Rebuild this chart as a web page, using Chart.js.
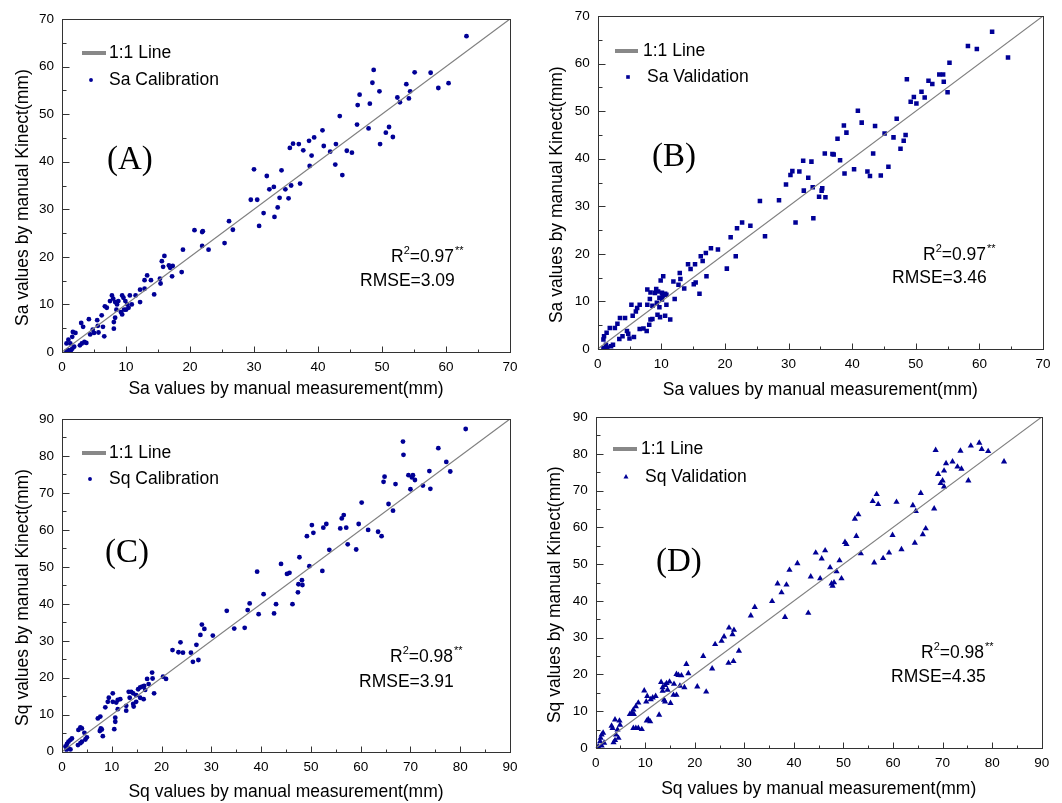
<!DOCTYPE html>
<html>
<head>
<meta charset="utf-8">
<script src="https://cdn.jsdelivr.net/npm/chart.js@4.4.0/dist/chart.umd.min.js"></script>
<style>
  body { margin: 0; background: #fff; width: 1062px; height: 803px; position: relative; overflow: hidden; }
  canvas { position: absolute; }
</style>
</head>
<body>
<canvas id="chartA" width="531" height="401" style="left:0;top:0"></canvas>
<canvas id="chartB" width="531" height="401" style="left:531px;top:0"></canvas>
<canvas id="chartC" width="531" height="402" style="left:0;top:401px"></canvas>
<canvas id="chartD" width="531" height="402" style="left:531px;top:401px"></canvas>
<script>
const saCalibration = [[63.2,66.4],[48.7,59.3],[46.5,54.1],[46.2,51.9],[49.6,54.8],[48.5,56.6],[48.1,52.2],[55.1,58.8],[57.6,58.7],[53.8,56.3],[54.4,54.8],[52.4,53.5],[52.8,52.5],[54.2,53.3],[58.8,55.5],[60.4,56.5],[46.1,47.8],[47.9,47.0],[51.1,47.3],[50.6,46.1],[51.7,45.2],[49.7,43.7],[43.4,49.6],[40.7,46.6],[39.4,45.1],[38.6,44.4],[40.9,43.3],[42.8,43.7],[44.5,42.3],[45.3,41.9],[41.9,42.1],[37.7,42.4],[39.0,41.3],[38.7,39.1],[42.7,39.4],[43.8,37.2],[37.0,43.7],[36.1,43.8],[35.6,42.9],[37.2,35.4],[35.8,35.0],[34.9,34.2],[35.4,32.3],[34.3,38.2],[34.0,32.4],[33.7,30.4],[33.1,34.7],[32.4,34.2],[32.0,37.0],[30.0,38.4],[29.5,32.0],[30.5,32.0],[31.5,29.2],[33.2,28.4],[30.8,26.5],[26.1,27.5],[26.7,25.7],[25.4,22.9],[20.7,25.6],[21.9,25.2],[22.0,25.4],[21.9,22.3],[22.9,21.5],[18.9,21.5],[18.7,16.8],[16.0,20.2],[15.6,19.1],[15.8,17.9],[16.7,18.2],[17.3,18.1],[16.9,17.7],[17.2,15.9],[15.3,15.4],[15.4,14.4],[13.3,16.1],[12.9,15.1],[13.9,15.1],[14.4,12.1],[12.2,13.1],[12.9,13.3],[11.5,11.9],[12.2,10.5],[10.6,11.9],[10.9,10.0],[9.6,11.4],[9.4,11.9],[9.9,10.7],[10.2,10.0],[10.0,8.9],[10.4,9.3],[9.2,8.4],[9.4,7.9],[9.7,8.9],[7.8,11.9],[8.0,11.2],[8.3,10.5],[8.6,10.0],[8.8,10.7],[7.5,10.7],[6.7,9.6],[7.0,9.3],[8.5,8.9],[8.3,7.2],[8.1,6.3],[8.1,4.9],[6.2,7.7],[5.5,6.7],[5.6,5.5],[4.8,4.7],[5.0,4.0],[5.7,4.1],[6.4,5.3],[6.6,3.3],[4.2,6.9],[3.0,6.1],[3.3,5.3],[4.4,3.7],[3.5,2.1],[3.1,1.8],[2.8,1.4],[3.8,1.9],[2.1,4.0],[1.7,4.2],[1.6,3.2],[1.0,2.6],[0.7,1.8],[1.3,1.8],[1.9,1.1],[1.6,0.7],[1.0,0.4],[0.7,0.2],[1.4,0.4]];

const saValidation = [[62.0,66.7],[58.2,63.7],[59.6,63.1],[64.5,61.3],[55.3,60.2],[48.6,56.7],[52.0,56.4],[52.6,55.7],[53.7,57.7],[54.3,57.7],[54.4,56.2],[50.9,54.1],[51.4,52.9],[49.7,53.0],[49.2,52.0],[50.1,51.6],[55.0,54.0],[40.9,50.1],[41.5,47.6],[38.7,47.0],[43.6,46.9],[47.0,48.4],[39.1,45.5],[37.7,44.2],[45.1,45.3],[46.5,44.5],[48.4,45.0],[48.1,43.8],[47.6,42.1],[43.3,41.1],[35.7,41.1],[36.9,41.0],[37.1,40.9],[38.1,39.7],[38.8,36.9],[40.3,37.8],[42.4,37.3],[42.8,36.4],[44.5,36.5],[45.7,38.3],[32.3,39.6],[33.6,39.4],[31.7,37.3],[30.6,37.4],[30.3,36.6],[29.6,34.6],[33.1,36.0],[33.8,34.0],[35.3,33.8],[32.4,33.3],[35.2,33.3],[34.8,32.0],[35.8,31.9],[33.9,27.5],[31.1,26.6],[28.5,31.3],[25.5,31.1],[22.7,26.6],[24.0,25.9],[21.9,25.4],[26.3,23.7],[20.9,23.5],[21.7,19.5],[20.3,16.9],[17.8,21.2],[18.9,20.9],[17.0,20.2],[16.2,19.5],[16.5,18.5],[15.3,17.8],[14.2,17.8],[14.6,16.8],[17.1,15.3],[15.4,14.0],[15.1,13.6],[16.0,11.6],[12.9,16.0],[13.0,14.7],[11.9,14.2],[12.7,13.5],[13.6,12.7],[12.1,10.5],[10.3,15.3],[9.9,14.4],[9.2,12.6],[8.3,11.9],[9.0,11.8],[9.5,12.1],[10.1,11.8],[10.6,11.6],[10.8,11.4],[9.7,10.8],[10.2,11.2],[10.1,10.4],[9.3,9.7],[7.8,12.5],[8.2,10.5],[7.8,9.3],[8.6,9.1],[9.7,8.8],[10.8,9.3],[11.4,6.2],[10.6,7.0],[9.4,7.2],[9.8,6.7],[6.6,9.3],[6.2,8.6],[6.0,7.9],[5.3,9.3],[5.5,7.0],[4.3,6.5],[3.5,6.5],[3.1,5.3],[2.7,4.4],[1.9,4.4],[1.4,3.4],[1.0,2.7],[0.9,2.0],[4.6,3.8],[4.8,3.2],[5.0,2.2],[5.7,2.5],[3.9,2.7],[3.4,2.1],[7.7,3.8],[6.6,4.2],[7.2,4.3],[8.1,5.1],[8.3,6.2],[8.6,6.3],[2.1,0.6],[1.5,0.3],[0.9,0.2],[2.4,0.9],[1.3,0.9]];

const sqCalibration = [[81.1,87.3],[68.5,83.9],[68.6,80.3],[75.6,82.1],[77.2,78.4],[78.0,75.8],[73.8,75.9],[74.0,71.1],[72.5,72.0],[70.0,71.0],[69.6,74.8],[70.5,74.8],[70.9,73.5],[70.3,74.2],[64.8,74.4],[64.6,73.0],[67.0,72.4],[65.6,67.0],[66.5,65.2],[60.2,67.4],[59.6,61.6],[61.5,60.0],[63.5,59.5],[64.2,58.3],[56.6,64.0],[56.2,63.1],[55.9,60.4],[57.1,60.6],[57.4,56.1],[59.1,54.7],[53.1,61.6],[52.5,60.6],[53.7,54.6],[50.2,61.3],[50.5,59.2],[49.2,58.3],[49.7,50.2],[52.3,48.9],[47.7,52.6],[44.0,50.8],[45.2,48.1],[45.7,48.4],[48.2,46.4],[48.3,45.1],[47.5,45.3],[47.4,43.1],[46.3,39.9],[43.0,39.9],[42.6,37.4],[40.5,42.6],[39.2,48.7],[37.7,40.1],[37.3,38.3],[39.5,37.2],[36.7,33.5],[33.1,38.1],[34.6,33.3],[30.3,31.4],[28.1,34.4],[28.6,33.2],[27.8,31.6],[27.0,28.9],[23.8,29.6],[22.2,27.5],[23.4,26.9],[24.3,26.8],[25.9,26.8],[26.3,24.3],[27.4,24.8],[20.3,20.3],[20.9,19.7],[18.1,21.4],[18.2,19.8],[17.1,19.7],[17.4,18.3],[18.5,15.8],[16.5,17.8],[16.1,17.6],[15.7,17.4],[15.3,16.9],[16.7,16.7],[16.4,14.2],[15.7,14.6],[14.9,15.3],[14.3,15.8],[13.4,16.2],[13.9,16.2],[14.9,13.5],[14.3,12.9],[14.4,12.2],[13.6,14.6],[12.9,12.4],[12.9,11.1],[11.7,14.2],[11.2,14.0],[10.9,13.3],[11.2,11.5],[10.2,15.8],[10.2,13.5],[10.7,9.2],[10.7,8.1],[10.5,6.1],[9.4,14.6],[9.2,13.5],[8.7,12.0],[7.7,9.5],[7.2,9.0],[7.8,6.3],[7.6,5.6],[8.2,4.2],[8.0,6.0],[4.0,6.3],[3.7,6.6],[3.3,5.9],[4.5,5.1],[5.0,3.9],[4.7,3.3],[4.0,2.7],[3.7,2.3],[3.2,1.8],[1.7,3.2],[1.3,2.7],[1.0,2.1],[2.0,3.6],[0.7,1.4],[1.3,0.9],[0.9,0.5],[1.7,0.6]];

const sqValidation = [[77.4,83.0],[75.7,82.2],[73.6,80.8],[77.9,81.3],[79.2,80.7],[68.6,81.0],[82.4,77.9],[72.0,77.9],[70.7,77.4],[73.0,76.5],[73.8,75.9],[70.3,75.4],[69.1,74.5],[70.0,72.7],[69.6,72.0],[70.3,71.1],[75.2,72.7],[65.6,69.3],[68.3,65.1],[56.7,69.0],[55.9,67.1],[57.0,66.3],[60.7,66.9],[64.0,66.0],[64.6,64.4],[53.0,63.5],[52.3,62.3],[52.6,57.6],[53.5,52.9],[50.3,56.0],[50.6,55.4],[59.9,57.9],[66.6,59.7],[66.0,58.1],[64.4,55.8],[61.7,54.0],[59.2,53.1],[58.0,51.6],[56.2,50.4],[49.2,51.0],[49.6,46.1],[48.6,48.0],[47.3,49.1],[45.6,51.5],[46.3,53.7],[44.4,53.1],[45.3,46.1],[47.6,44.7],[48.1,45.0],[47.8,44.1],[43.4,46.6],[42.9,36.7],[40.7,50.2],[39.1,48.4],[38.5,44.4],[36.7,44.7],[37.5,42.3],[38.2,35.6],[35.6,39.9],[32.1,38.3],[31.3,36.0],[26.9,32.7],[27.9,32.1],[27.6,30.9],[25.9,30.3],[25.4,29.1],[24.1,28.2],[28.9,26.4],[26.8,23.1],[27.8,23.6],[23.5,21.6],[21.7,25.0],[22.3,15.3],[20.5,16.7],[18.3,22.8],[18.7,20.3],[17.9,16.5],[17.3,19.7],[16.7,19.8],[16.3,20.1],[17.0,16.9],[15.8,17.4],[16.3,14.4],[15.7,14.4],[15.1,12.2],[14.9,18.0],[14.3,17.6],[14.0,17.1],[13.5,16.5],[14.5,15.8],[13.2,17.9],[13.5,15.5],[13.8,13.1],[14.0,12.6],[12.8,9.0],[12.1,14.1],[11.5,13.7],[11.1,13.2],[10.4,14.1],[10.2,12.6],[9.8,15.6],[10.6,7.8],[11.0,7.2],[10.3,7.4],[9.3,5.1],[8.6,5.4],[8.1,5.4],[7.6,5.4],[8.6,12.3],[8.1,11.3],[7.6,10.4],[7.3,9.5],[7.7,9.2],[6.9,9.2],[4.8,7.4],[3.9,7.7],[4.9,6.3],[3.2,6.0],[3.4,5.4],[4.4,5.0],[4.1,3.6],[4.6,2.7],[3.9,2.1],[3.6,1.5],[1.5,4.1],[1.2,3.6],[1.0,2.7],[0.9,1.8],[1.7,1.4],[1.2,0.6],[0.5,0.4]];

const saTicks = [0, 10, 20, 30, 40, 50, 60, 70];
const sqTicks = [0, 10, 20, 30, 40, 50, 60, 70, 80, 90];
const panelTags = ['(A)', '(B)', '(C)', '(D)'];
const r2Values = ['0.97', '0.97', '0.98', '0.98'];
const rmseValues = ['3.09', '3.46', '3.91', '4.35'];

const SANS = "'Liberation Sans', Arial, sans-serif";
const SERIF = "'Liberation Serif', 'Times New Roman', serif";
const DOT = 'rgb(0,0,150)';

// draws frame, inner ticks, legend and the text labels
const panelDecor = {
  id: 'panelDecor',
  afterDraw(chart, args, o) {
    const ctx = chart.ctx;
    const a = chart.chartArea;
    const xs = chart.scales.x, ys = chart.scales.y;
    ctx.save();
    ctx.strokeStyle = '#333';
    ctx.lineWidth = 1;
    const L = Math.round(a.left) + 0.5, R = Math.round(a.right) + 0.5;
    const T = Math.round(a.top) + 0.5, B = Math.round(a.bottom) + 0.5;
    ctx.strokeRect(L, T, R - L, B - T);
    ctx.beginPath();
    for (let v = xs.min; v <= xs.max; v += 5) {
      const px = Math.round(xs.getPixelForValue(v)) + 0.5;
      const len = v % 10 === 0 ? 6 : 3;
      ctx.moveTo(px, B); ctx.lineTo(px, B - len);
    }
    for (let v = ys.min; v <= ys.max; v += 5) {
      const py = Math.round(ys.getPixelForValue(v)) + 0.5;
      const len = v % 10 === 0 ? 7 : 4;
      ctx.moveTo(L, py); ctx.lineTo(L + len, py);
    }
    ctx.stroke();

    // legend
    const lineSet = chart.data.datasets[0], dotSet = chart.data.datasets[1];
    ctx.strokeStyle = '#888';
    ctx.lineWidth = 4;
    ctx.beginPath();
    ctx.moveTo(o.leg.lx0, o.leg.ly); ctx.lineTo(o.leg.lx1, o.leg.ly);
    ctx.stroke();
    ctx.fillStyle = '#000';
    ctx.font = '17.5px ' + SANS;
    ctx.textBaseline = 'middle';
    ctx.textAlign = 'left';
    ctx.fillText(lineSet.label, o.leg.tx0, o.leg.ly);
    ctx.fillText(dotSet.label, o.leg.tx1, o.leg.my);
    ctx.fillStyle = DOT;
    Chart.helpers.drawPoint(ctx, {pointStyle: dotSet.pointStyle, radius: dotSet.pointRadius * 0.8, borderWidth: 0, rotation: 0}, o.leg.mx, o.leg.my);

    // panel tag
    ctx.fillStyle = '#000';
    ctx.font = '33px ' + SERIF;
    ctx.fillText(o.tag, o.tagX, o.tagY);

    // R2 with superscripts
    ctx.font = '17.5px ' + SANS;
    let x = o.r2X;
    ctx.fillText('R', x, o.r2Y); x += ctx.measureText('R').width;
    ctx.font = '11px ' + SANS;
    ctx.fillText('2', x, o.r2Y - 6); x += ctx.measureText('2').width;
    ctx.font = '17.5px ' + SANS;
    const main = '=' + o.r2;
    ctx.fillText(main, x, o.r2Y); x += ctx.measureText(main).width;
    ctx.font = '11px ' + SANS;
    ctx.fillText('**', x + 1, o.r2Y - 6);
    ctx.font = '17.5px ' + SANS;
    ctx.fillText('RMSE=' + o.rmse, o.rmseX, o.rmseY);
    ctx.restore();
  }
};

function makePanel(id, cfg) {
  const points = cfg.data.map(p => ({x: p[0], y: p[1]}));
  const maxV = cfg.ticks[cfg.ticks.length - 1];
  const tickFont = {family: SANS, size: 13.5};
  const titleFont = {family: SANS, size: 17.5};
  new Chart(document.getElementById(id), {
    type: 'scatter',
    data: {
      datasets: [
        {
          type: 'line',
          label: '1:1 Line',
          data: [{x: cfg.ticks[0], y: cfg.ticks[0]}, {x: maxV, y: maxV}],
          borderColor: '#808080',
          borderWidth: 1.2,
          pointRadius: 0,
          fill: false
        },
        {
          label: cfg.label,
          data: points,
          pointStyle: cfg.pointStyle,
          pointRadius: cfg.radius,
          backgroundColor: DOT,
          borderColor: DOT,
          borderWidth: 0
        }
      ]
    },
    options: {
      responsive: false,
      animation: false,
      devicePixelRatio: 1,
      layout: {padding: cfg.pad},
      plugins: {
        legend: {display: false},
        tooltip: {enabled: false},
        panelDecor: cfg.decor
      },
      scales: {
        x: {
          type: 'linear',
          min: 0,
          max: maxV,
          afterBuildTicks: s => { s.ticks = cfg.ticks.map(v => ({value: v})); },
          afterFit: s => { s.height = cfg.xAxisH; },
          grid: {display: false, drawTicks: false},
          border: {display: false},
          ticks: {color: '#000', font: tickFont, padding: 7, maxRotation: 0},
          title: {display: true, text: cfg.xTitle, color: '#000', font: titleFont, padding: {top: 0, bottom: cfg.xTitlePad}}
        },
        y: {
          type: 'linear',
          min: 0,
          max: maxV,
          afterBuildTicks: s => { s.ticks = cfg.ticks.map(v => ({value: v})); },
          afterFit: s => { s.width = cfg.yAxisW; },
          grid: {display: false, drawTicks: false},
          border: {display: false},
          ticks: {color: '#000', font: tickFont, padding: 8},
          title: {display: true, text: cfg.yTitle + '     ', color: '#000', font: titleFont, padding: {top: cfg.yTitlePad, bottom: 0}}
        }
      }
    },
    plugins: [panelDecor]
  });
}

makePanel('chartA', {
  data: saCalibration, ticks: saTicks, label: 'Sa Calibration', pointStyle: 'circle', radius: 2.4,
  xTitle: 'Sa values by manual measurement(mm)', yTitle: 'Sa values by manual Kinect(mm)',
  pad: {left: 0, top: 19, right: 21, bottom: 0}, xAxisH: 49, yAxisW: 62, xTitlePad: 1.5, yTitlePad: 12.5,
  decor: {leg: {lx0: 82, lx1: 106, ly: 53, tx0: 109, mx: 91, my: 80, tx1: 109},
          tag: panelTags[0], tagX: 107, tagY: 160, r2: r2Values[0], r2X: 391, r2Y: 257, rmse: rmseValues[0], rmseX: 360, rmseY: 281}
});

makePanel('chartB', {
  data: saValidation, ticks: saTicks, label: 'Sa Validation', pointStyle: 'rect', radius: 3.2,
  xTitle: 'Sa values by manual measurement(mm)', yTitle: 'Sa values by manual Kinect(mm)',
  pad: {left: 0, top: 16, right: 19, bottom: 0}, xAxisH: 52, yAxisW: 66.7, xTitlePad: 0.5, yTitlePad: 15.5,
  decor: {leg: {lx0: 84, lx1: 107, ly: 51, tx0: 112, mx: 97, my: 77, tx1: 116},
          tag: panelTags[1], tagX: 121, tagY: 157, r2: r2Values[1], r2X: 392, r2Y: 255, rmse: rmseValues[1], rmseX: 361, rmseY: 278}
});

makePanel('chartC', {
  data: sqCalibration, ticks: sqTicks, label: 'Sq Calibration', pointStyle: 'circle', radius: 2.4,
  xTitle: 'Sq values by manual measurement(mm)', yTitle: 'Sq values by manual Kinect(mm)',
  pad: {left: 0, top: 18, right: 21, bottom: 0}, xAxisH: 51.3, yAxisW: 62, xTitlePad: 0, yTitlePad: 12.5,
  decor: {leg: {lx0: 82, lx1: 106, ly: 52, tx0: 109, mx: 90, my: 78, tx1: 109},
          tag: panelTags[2], tagX: 105, tagY: 152, r2: r2Values[2], r2X: 390, r2Y: 256, rmse: rmseValues[2], rmseX: 359, rmseY: 281}
});

makePanel('chartD', {
  data: sqValidation, ticks: sqTicks, label: 'Sq Validation', pointStyle: 'triangle', radius: 3.6,
  xTitle: 'Sq values by manual measurement(mm)', yTitle: 'Sq values by manual Kinect(mm)',
  pad: {left: 0, top: 14, right: 20.3, bottom: 0}, xAxisH: 55, yAxisW: 64.7, xTitlePad: 3.5, yTitlePad: 13.5,
  decor: {leg: {lx0: 82, lx1: 106, ly: 48, tx0: 110, mx: 95, my: 76, tx1: 114},
          tag: panelTags[3], tagX: 125, tagY: 161, r2: r2Values[3], r2X: 390, r2Y: 252, rmse: rmseValues[3], rmseX: 360, rmseY: 276}
});
</script>
</body>
</html>
